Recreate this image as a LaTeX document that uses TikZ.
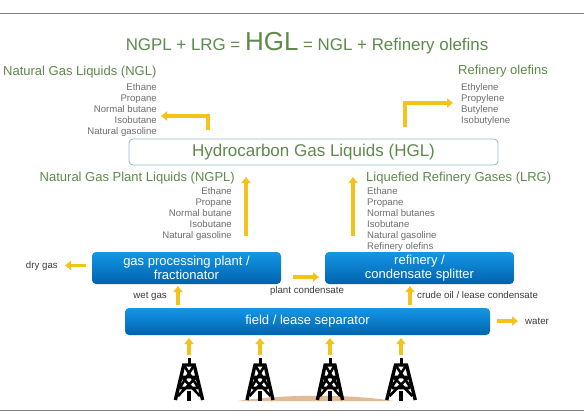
\documentclass[tikz,border=0pt]{standalone}
\usepackage{fontspec}
\setmainfont{Liberation Sans}
\usetikzlibrary{arrows.meta}
\definecolor{gtxt}{HTML}{5E8A4C}
\definecolor{ltxt}{HTML}{6E6E6E}
\definecolor{dtxt}{HTML}{3C3C3C}
\definecolor{arw}{HTML}{F3C31C}
\definecolor{btop}{HTML}{1597E5}
\definecolor{bbot}{HTML}{0062AE}
\definecolor{sand}{HTML}{E2BA96}
\definecolor{hglline}{HTML}{96BECD}
\tikzset{
  flow/.style={draw=arw,line width=3.2pt,-{Triangle[length=6pt,width=9pt]}},
  bluebox/.style={rounded corners=4pt,top color=btop,bottom color=bbot,draw=none,text=white,align=center,font=\fontsize{13}{14}\selectfont,inner sep=0pt},
  head/.style={text=gtxt,font=\fontsize{13}{14}\selectfont,inner sep=0pt},
  items/.style={text=ltxt,font=\fontsize{9.6}{11}\selectfont,inner sep=0pt},
  tag/.style={text=dtxt,font=\fontsize{9.7}{10}\selectfont,inner sep=0pt},
  rig/.pic={
    \draw[black,line width=3.4pt,line join=miter] (-13,-1)--(-5,-36)--(5,-36)--(13,-1);
    \draw[black,line width=2.6pt] (-8.5,-13)--(8.5,-13) (-6.5,-24)--(6.5,-24) (-5,-36)--(9,-13) (5,-36)--(-9,-13) (-7,-24)--(10.5,-5) (7,-24)--(-10.5,-5);
    \draw[black,line width=3pt] (0,-43)--(0,-36);
    \draw[black,line width=3.5pt] (0,-10)--(0,0);
  }
}
\begin{document}
\begin{tikzpicture}[x=1pt,y=-1pt]
\useasboundingbox (0,0) rectangle (584,420);
\fill[white] (0,0) rectangle (584,420);
\draw[gray,line width=0.8pt] (0,13.5)--(584,13.5) (0,410)--(584,410);
\fill[sand] (238,401) .. controls (285,394) and (350,394) .. (394,401) -- cycle;
\node[text=gtxt,inner sep=0pt,anchor=base] (title) at (307,51) {\fontsize{16.9}{18}\selectfont NGPL + LRG = {\fontsize{26}{28}\selectfont HGL} = NGL + Refinery olefins};
\node[head,anchor=west] (ngl) at (3,72) {Natural Gas Liquids (NGL)};
\node[items,align=right,anchor=north east] (ngllist) at (157,83) {Ethane\\Propane\\Normal butane\\Isobutane\\Natural gasoline};
\node[head,anchor=west] (ole) at (458,71) {Refinery olefins};
\node[items,align=left,anchor=north west] (olelist) at (461,83) {Ethylene\\Propylene\\Butylene\\Isobutylene};
\node[draw=hglline,fill=white,line width=0.9pt,rounded corners=4pt,minimum width=369pt,minimum height=26pt,inner sep=0pt,text=gtxt,font=\fontsize{17}{18}\selectfont] (hgl) at (313.5,152) {Hydrocarbon Gas Liquids (HGL)};
\node[head,anchor=east] (ngpl) at (235,178) {Natural Gas Plant Liquids (NGPL)};
\node[items,align=right,anchor=north east] (ngpllist) at (232,187.5) {Ethane\\Propane\\Normal butane\\Isobutane\\Natural gasoline};
\node[head,anchor=west] (lrg) at (366,178) {Liquefied Refinery Gases (LRG)};
\node[items,align=left,anchor=north west] (lrglist) at (367,187.5) {Ethane\\Propane\\Normal butanes\\Isobutane\\Natural gasoline\\Refinery olefins};
\node[bluebox,minimum width=189pt,minimum height=32pt] (gas) at (186.5,268) {gas processing plant /\\fractionator};
\node[bluebox,minimum width=189pt,minimum height=32pt] (ref) at (419.5,268) {refinery /\\condensate splitter};
\node[bluebox,minimum width=365pt,minimum height=27pt] (sep) at (307.5,321.5) {field / lease separator};
\node[tag,anchor=east] (dry) at (58,265.5) {dry gas};
\node[tag,anchor=east] (wet) at (167,296) {wet gas};
\node[tag] (plant) at (307,290.5) {plant condensate};
\node[tag,anchor=west] (crude) at (417,295.5) {crude oil / lease condensate};
\node[tag,anchor=west] (water) at (525,321) {water};
\coordinate (a1) at (208,130);\coordinate (a1b) at (208,116);\coordinate (a1e) at (161,116);
\coordinate (a2) at (405,127);\coordinate (a2b) at (405,103);\coordinate (a2e) at (453,103);
\draw[flow] (a1)--(a1b)--(a1e);
\draw[flow] (a2)--(a2b)--(a2e);
\coordinate (u1) at (246,236);\coordinate (u1e) at (246,177);
\coordinate (u2) at (353,236);\coordinate (u2e) at (353,177);
\draw[flow] (u1)--(u1e);
\draw[flow] (u2)--(u2e);
\coordinate (d1) at (86,265.5);\coordinate (d1e) at (65,265.5);
\draw[flow] (d1)--(d1e);
\coordinate (w1) at (178,305);\coordinate (w1e) at (178,286);
\draw[flow] (w1)--(w1e);
\coordinate (p1) at (293,277);\coordinate (p1e) at (319,277);
\draw[flow] (p1)--(p1e);
\coordinate (c1) at (410,305);\coordinate (c1e) at (410,286);
\draw[flow] (c1)--(c1e);
\coordinate (o1) at (497,321);\coordinate (o1e) at (518,321);
\draw[flow] (o1)--(o1e);
\foreach \nm/\px/\rs in {r1/189/1.05, r2/260/1, r3/330/0.97, r4/401/1.1}{
  \coordinate (\nm) at (\px,355);
  \coordinate (\nm e) at (\px,338);
  \draw[flow] (\nm)--(\nm e);
  \pic[xscale=\rs] at (\px,401) {rig};
}
\end{tikzpicture}
\end{document}
